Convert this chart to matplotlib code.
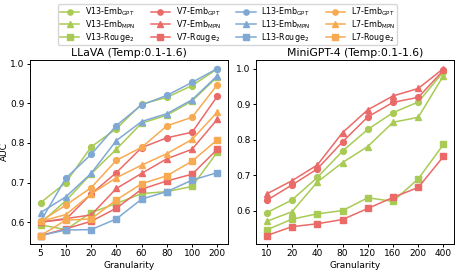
import matplotlib
matplotlib.use("Agg")
import matplotlib.pyplot as plt

plt.rcParams['mathtext.fontset'] = 'dejavusans'
plt.rcParams['font.family'] = ['DejaVu Sans']

# Left panel (LLaVA)
llava_x = ["5", "10", "20", "40", "60", "80", "100", "200"]
v13_gpt_l = [0.649, 0.700, 0.790, 0.836, 0.898, 0.915, 0.945, 0.987]
v13_mpn_l = [0.598, 0.654, 0.722, 0.784, 0.850, 0.870, 0.906, 0.967]
v13_rouge_l = [0.593, 0.581, 0.624, 0.647, 0.672, 0.677, 0.690, 0.777]
v7_gpt_l = [0.600, 0.607, 0.671, 0.725, 0.788, 0.813, 0.827, 0.918]
v7_mpn_l = [0.600, 0.609, 0.618, 0.685, 0.723, 0.760, 0.784, 0.860]
v7_rouge_l = [0.566, 0.583, 0.602, 0.635, 0.683, 0.704, 0.721, 0.784]
l13_gpt_l = [0.602, 0.711, 0.771, 0.844, 0.896, 0.920, 0.953, 0.988]
l13_mpn_l = [0.624, 0.664, 0.723, 0.806, 0.854, 0.874, 0.909, 0.970]
l13_rouge_l = [0.566, 0.580, 0.581, 0.608, 0.658, 0.677, 0.706, 0.725]
l7_gpt_l = [0.602, 0.643, 0.687, 0.756, 0.789, 0.843, 0.865, 0.947]
l7_mpn_l = [0.602, 0.619, 0.671, 0.712, 0.744, 0.773, 0.809, 0.878]
l7_rouge_l = [0.566, 0.605, 0.608, 0.656, 0.697, 0.717, 0.754, 0.808]

# Right panel (MiniGPT-4)
mini_x = ["10", "20", "40", "80", "120", "160", "200", "400"]
v13_gpt_r = [0.595, 0.631, 0.694, 0.768, 0.829, 0.876, 0.906, 0.991]
v13_mpn_r = [0.571, 0.598, 0.681, 0.736, 0.781, 0.849, 0.863, 0.980]
v13_rouge_r = [0.547, 0.577, 0.592, 0.601, 0.637, 0.627, 0.690, 0.787]
v7_gpt_r = [0.630, 0.673, 0.718, 0.794, 0.864, 0.905, 0.919, 0.995]
v7_mpn_r = [0.648, 0.685, 0.729, 0.820, 0.884, 0.923, 0.944, 1.000]
v7_rouge_r = [0.531, 0.556, 0.564, 0.576, 0.607, 0.638, 0.666, 0.753]

GREEN = "#a9cb55"
RED = "#ea6a68"
BLUE = "#7fa9d4"
ORANGE = "#f8aa52"

fig = plt.figure(figsize=(4.55, 2.71), dpi=100)
ax1 = fig.add_axes([0.066, 0.100, 0.435, 0.678])
ax2 = fig.add_axes([0.563, 0.100, 0.435, 0.678])

lw = 1.1
ms = 4.2

def plot(ax, xs, ys, color, marker, label):
    return ax.plot(range(len(xs)), ys, color=color, marker=marker, lw=lw, ms=ms, label=label)[0]

handles = []
handles.append(plot(ax1, llava_x, v13_gpt_l, GREEN, 'o', r'V13-Emb$_{\mathrm{GPT}}$'))
handles.append(plot(ax1, llava_x, v13_mpn_l, GREEN, '^', r'V13-Emb$_{\mathrm{MPN}}$'))
handles.append(plot(ax1, llava_x, v13_rouge_l, GREEN, 's', r'V13-Rouge$_2$'))
handles.append(plot(ax1, llava_x, v7_gpt_l, RED, 'o', r'V7-Emb$_{\mathrm{GPT}}$'))
handles.append(plot(ax1, llava_x, v7_mpn_l, RED, '^', r'V7-Emb$_{\mathrm{MPN}}$'))
handles.append(plot(ax1, llava_x, v7_rouge_l, RED, 's', r'V7-Rouge$_2$'))
handles.append(plot(ax1, llava_x, l13_gpt_l, BLUE, 'o', r'L13-Emb$_{\mathrm{GPT}}$'))
handles.append(plot(ax1, llava_x, l13_mpn_l, BLUE, '^', r'L13-Emb$_{\mathrm{MPN}}$'))
handles.append(plot(ax1, llava_x, l13_rouge_l, BLUE, 's', r'L13-Rouge$_2$'))
handles.append(plot(ax1, llava_x, l7_gpt_l, ORANGE, 'o', r'L7-Emb$_{\mathrm{GPT}}$'))
handles.append(plot(ax1, llava_x, l7_mpn_l, ORANGE, '^', r'L7-Emb$_{\mathrm{MPN}}$'))
handles.append(plot(ax1, llava_x, l7_rouge_l, ORANGE, 's', r'L7-Rouge$_2$'))

plot(ax2, mini_x, v13_gpt_r, GREEN, 'o', None)
plot(ax2, mini_x, v13_mpn_r, GREEN, '^', None)
plot(ax2, mini_x, v13_rouge_r, GREEN, 's', None)
plot(ax2, mini_x, v7_gpt_r, RED, 'o', None)
plot(ax2, mini_x, v7_mpn_r, RED, '^', None)
plot(ax2, mini_x, v7_rouge_r, RED, 's', None)

fs = 6.5
for ax, xs, title in [(ax1, llava_x, "LLaVA (Temp:0.1-1.6)"), (ax2, mini_x, "MiniGPT-4 (Temp:0.1-1.6)")]:
    ax.set_xticks(range(len(xs)))
    ax.set_xticklabels(xs)
    ax.tick_params(labelsize=fs, length=2.5, width=0.7, pad=1.5)
    ax.set_xlabel("Granularity", fontsize=fs, labelpad=1.5)
    ax.set_title(title, fontsize=7.8, pad=3)
    ax.set_yticks([0.6, 0.7, 0.8, 0.9, 1.0])
    ax.margins(x=0.06)
    for s in ax.spines.values():
        s.set_linewidth(0.7)

ax1.set_ylabel("AUC", fontsize=fs, labelpad=1)

fig.legend(handles=handles, loc='upper center', bbox_to_anchor=(0.5, 1.0), ncol=4,
           fontsize=5.8, frameon=True, edgecolor='#cccccc', fancybox=True,
           handlelength=2.4, columnspacing=1.9, labelspacing=0.0, borderpad=0.2,
           handletextpad=0.7, markerscale=0.9)

fig.savefig("out.png", dpi=100)
